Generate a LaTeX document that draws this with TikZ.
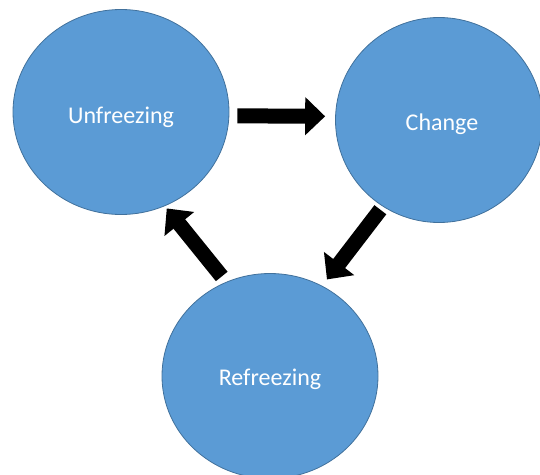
\documentclass[tikz,border=0pt]{standalone}
\usepackage{fontspec}
\setmainfont{Carlito}
\usepackage{xcolor}
\usepackage{tikz}
\usetikzlibrary{shapes.geometric,arrows.meta}
\definecolor{stagefill}{HTML}{5B9BD5}
\definecolor{stageline}{HTML}{41719C}

\begin{document}
\begin{tikzpicture}[x=1pt, y=-1pt, stage/.style={ellipse, draw=stageline, line width=0.8pt, fill=stagefill, text=white, inner sep=0pt, minimum width=216pt, minimum height=205pt, font=\fontsize{24}{28}\selectfont}, flow/.style={line width=15pt, -{Triangle[width=37pt,length=20pt]}}]
\useasboundingbox (0,0) rectangle (540,474);
% Stages

\node [stage] (unfreezing) at (121,112) {\raisebox{-5pt}[\height][\depth]{Unfreezing}};
\node [stage, minimum width=207pt] (change) at (439,120) {\hspace{6pt}\raisebox{-4pt}[\height][\depth]{Change}};
\node [stage] (refreezing) at (270,376) {\raisebox{-3pt}[\height][\depth]{Refreezing}};

% Arrows

\draw[flow, shorten <=8pt, shorten >=10pt] (unfreezing.358) -- (change.178);
\draw[flow, shorten <=4pt, shorten >=8pt] (change.237) -- (refreezing.60);
\draw[flow, shorten <=7pt, shorten >=3pt] (refreezing.115) -- (unfreezing.295);
\end{tikzpicture}
\end{document}
